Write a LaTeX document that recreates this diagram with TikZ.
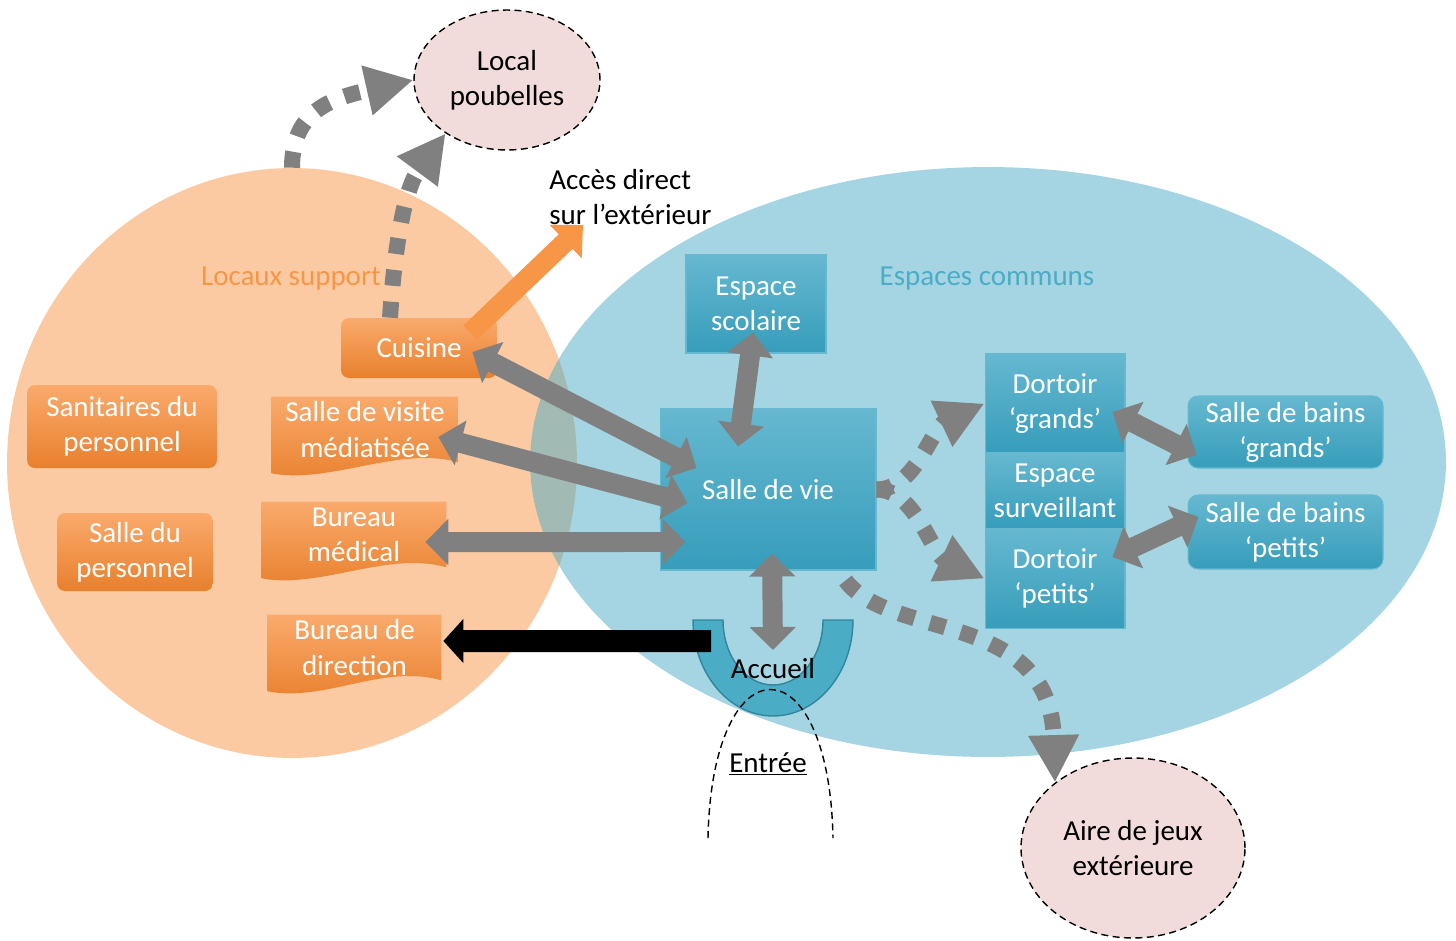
\documentclass[tikz,border=0pt]{standalone}
\usepackage{fontspec}
\setmainfont{Carlito}
\usepackage{tikz}
\usetikzlibrary{arrows.meta,positioning,shapes.geometric,backgrounds,calc}
\pgfdeclarelayer{mid}
\pgfsetlayers{background,mid,main}

\definecolor{orgmain}{RGB}{247,150,70}
\definecolor{orgtop}{RGB}{250,170,108}
\definecolor{orgbot}{RGB}{232,128,45}
\definecolor{blumain}{RGB}{75,172,198}
\definecolor{blutop}{RGB}{102,184,208}
\definecolor{blubot}{RGB}{54,157,187}
\definecolor{accedge}{RGB}{49,133,156}
\definecolor{arrgray}{RGB}{128,128,128}
\definecolor{pinkfill}{RGB}{242,220,219}

% wavy bottom under a node (document shape)
\newcommand{\wavefill}[1]{%
  \shade[docshade] (#1.north west) -- (#1.north east) -- (#1.south east)
    .. controls ($(#1.south east)+(-1.16cm,0.34cm)$) and ($(#1.south west)+(1.16cm,-0.44cm)$) ..
    ($(#1.south west)+(0,-0.22cm)$) -- cycle;}

\begin{document}
\begin{tikzpicture}[
    x=0.02cm,y=-0.02cm,
    font=\fontsize{16.5}{20}\selectfont,
    zone/.style={ellipse,draw=none,fill opacity=0.5,inner sep=0pt},
    orgbox/.style={rounded corners=0.16cm,top color=orgtop,bottom color=orgbot,draw=none,text=white,align=center,inner sep=0pt},
    orgdoc/.style={text=white,align=center,inner sep=0pt},
    docshade/.style={top color=orgtop,bottom color=orgbot},
    blubox/.style={top color=blutop,bottom color=blubot,draw=blumain!85!white,line width=0.6pt,text=white,align=center,inner sep=0pt},
    pinkell/.style={ellipse,draw=black,fill=pinkfill,dash pattern=on 4pt off 2.5pt,line width=0.8pt,align=center,inner sep=0pt},
    dbl/.style={draw=arrgray,line width=0.4cm,{Triangle[length=0.46cm,width=0.9cm]}-{Triangle[length=0.46cm,width=0.9cm]}},
    dotarr/.style={draw=arrgray,line width=0.32cm,dash pattern=on 0.32cm off 0.32cm,-{Triangle[length=0.95cm,width=0.95cm]}},
    blk/.style={draw=black,line width=0.44cm,-{Triangle[length=0.4cm,width=0.86cm]}},
    extarrow/.style={draw=orgmain,line width=0.4cm,-{Triangle[length=0.48cm,width=0.9cm]}},
]
\useasboundingbox (0,0) rectangle (1456,940);

% zones
\begin{scope}[on background layer]
\node[zone,fill=orgmain,minimum width=11.4cm,minimum height=11.8cm] (support) at (292,463) {};
\node[zone,fill=blumain,minimum width=18.32cm,minimum height=11.8cm] (communs) at (988,462) {};
\end{scope}
\node[text=orgmain] (lsupport) at (291,279) {Locaux support};
\node[text=blumain] (lcommuns) at (987,279) {Espaces communs};

% espaces communs
\node[blubox,minimum width=2.8cm,minimum height=1.96cm] (scolaire) at (756,304) {Espace\\scolaire};
\node[blubox,minimum width=4.32cm,minimum height=3.22cm] (vie) at (768,489.5) {Salle de vie};
\node[blubox,minimum width=2.8cm,minimum height=1.98cm] (dgrands) at (1055,403.5) {Dortoir\\‘grands’};
\node[blubox,minimum width=2.8cm,minimum height=1.48cm,below=0pt of dgrands] (surv) {Espace\\surveillant};
\node[blubox,minimum width=2.8cm,minimum height=1.98cm,below=0pt of surv] (dpetits) {Dortoir\\‘petits’};
\node[blubox,rounded corners=0.2cm,minimum width=3.9cm,minimum height=1.44cm] (bgrands) at (1285.5,432) {Salle de bains\\‘grands’};
\node[blubox,rounded corners=0.2cm,minimum width=3.9cm,minimum height=1.48cm] (bpetits) at (1285.5,532) {Salle de bains\\‘petits’};

% locaux support
\node[orgbox,minimum width=3.12cm,minimum height=1.2cm] (cuisine) at (419,348) {Cuisine};
\node[orgbox,minimum width=3.8cm,minimum height=1.66cm] (sanit) at (122,426.5) {Sanitaires du\\personnel};
\node[orgbox,minimum width=3.12cm,minimum height=1.56cm] (sperso) at (135,552) {Salle du\\personnel};
\node[orgdoc,minimum width=3.72cm,minimum height=1.3cm] (visite) at (365,429.5) {Salle de visite\\médiatisée};
\node[orgdoc,minimum width=3.68cm,minimum height=1.3cm] (medical) at (354,534.5) {Bureau\\médical};
\node[orgdoc,minimum width=3.46cm,minimum height=1.3cm] (direction) at (354.5,647.5) {Bureau de\\direction};
\begin{pgfonlayer}{mid}
\wavefill{visite}
\wavefill{medical}
\wavefill{direction}
\end{pgfonlayer}

% accueil et entree
\coordinate (acc) at (773,620);
\filldraw[fill=blumain,draw=accedge,line width=0.8pt] ($(acc)+(-1.6cm,0)$) arc[start angle=180,end angle=360,x radius=1.6cm,y radius=1.92cm]
    -- ($(acc)+(1.0cm,0)$) arc[start angle=0,end angle=-180,x radius=1.0cm,y radius=1.3cm] -- cycle;
\node (accueil) at (773,669) {Accueil};
\draw[dash pattern=on 4pt off 2.5pt,line width=0.8pt] (708,838) .. controls (712,640) and (829,640) .. (833,838);
\node (entree) at (768,764) {\underline{Entrée}};

% exterieur
\node[pinkell,minimum width=3.72cm,minimum height=2.8cm] (poubelles) at (507,80) {Local\\poubelles};
\node[pinkell,minimum width=4.48cm,minimum height=3.6cm] (aire) at (1133,848) {Aire de jeux\\extérieure};
\node[align=left,anchor=west,inner sep=0pt] (acces) at (549,197) {Accès direct\\sur l’extérieur};
\coordinate (exit) at (583,225);

% liaisons
\draw[extarrow] ([xshift=-0.54cm,yshift=-0.3cm]cuisine.north east) -- (exit);
\draw[dbl] ([xshift=-0.5cm,yshift=-0.08cm]cuisine.east) -- ([xshift=0.74cm,yshift=0.43cm]vie.west);
\draw[dbl] ([xshift=-0.4cm,yshift=-0.15cm]visite.east) -- ([xshift=0.56cm,yshift=-0.27cm]vie.west);
\draw[dbl] ([xshift=-0.42cm,yshift=-0.15cm]medical.east) -- ([xshift=0.52cm,yshift=-1.05cm]vie.west);
\draw[dbl] ([xshift=-0.06cm,yshift=0.42cm]scolaire.south) -- ([xshift=-0.6cm,yshift=-0.76cm]vie.north);
\draw[dbl] ([xshift=0.08cm,yshift=0.34cm]vie.south) -- ([yshift=0.38cm]accueil.center);
\draw[dbl] ([xshift=-0.26cm,yshift=-0.17cm]dgrands.east) -- ([xshift=0.18cm,yshift=-0.46cm]bgrands.west);
\draw[dbl] ([xshift=-0.26cm,yshift=0.43cm]dpetits.east) -- ([xshift=0.22cm,yshift=0.3cm]bpetits.west);
\draw[blk] ([xshift=-1.24cm,yshift=-0.42cm]acc) -- ([xshift=0.04cm,yshift=0.13cm]direction.east);
\draw[dotarr] (support.north) .. controls +(0,-58) and +(-80,18) .. (poubelles.west);
\draw[dotarr] ([xshift=-0.58cm]cuisine.north) .. controls +(5,-78) and +(-40,54) .. (poubelles.221);
\draw[dotarr] (vie.east) .. controls +(39,0) and +(-53,25) .. (dgrands.west);
\draw[dotarr] (vie.east) .. controls +(39,0) and +(-53,-25) .. (dpetits.west);
\draw[dotarr] ([xshift=-0.62cm,yshift=-0.2cm]vie.south east) .. controls +(45,60) and +(-5,-173) .. (aire.140);
\end{tikzpicture}
\end{document}
